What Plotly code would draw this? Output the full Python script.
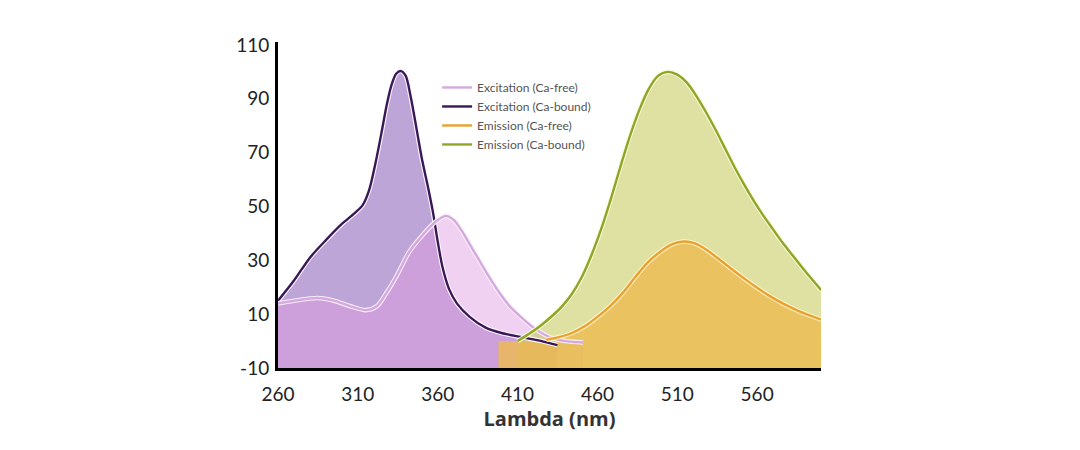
import plotly.graph_objects as go

# ---------------- data ----------------
exc_bound_x = [260, 270, 280, 290, 300, 308, 313, 317, 321, 325, 328, 331, 334, 337, 340, 343, 347, 350, 354, 357, 360, 363, 367, 372, 380, 390, 400, 412, 425, 435]
exc_bound_y = [15, 22.5, 31, 37.5, 43.5, 47.5, 50.5, 56, 66, 78, 87.5, 95, 99.3, 100.3, 98.5, 91, 78, 68, 57, 48, 37, 27.5, 19.5, 14, 9, 5, 3, 1.5, 0, -1.5]

exc_free_x = [260, 270, 285, 295, 305, 315, 322, 328, 335, 342, 350, 358, 365, 370, 375, 380, 385, 392, 398, 405, 412, 420, 430, 440, 451]
exc_free_y = [14, 15, 16, 15, 13, 11.5, 13, 18, 25, 33, 39, 44, 46.5, 45, 41, 36, 31, 24, 18.5, 13, 9, 5, 1.5, 0, -0.5]

em_bound_x = [410, 418, 425, 432, 438, 444, 450, 456, 462, 468, 474, 480, 486, 492, 498, 504, 510, 516, 522, 528, 534, 540, 546, 552, 558, 564, 570, 576, 582, 590, 600]
em_bound_y = [0, 3, 6, 9.5, 13, 17.5, 23.5, 31.5, 41, 52, 64, 75.5, 85.5, 93.5, 98.5, 100, 99, 96, 91, 85, 78.5, 71.5, 64.5, 58, 52, 46.5, 41.5, 36.5, 32, 26, 19]

em_free_x = [398, 410, 420, 428, 436, 444, 452, 460, 468, 476, 484, 492, 500, 507, 514, 521, 528, 536, 544, 552, 560, 568, 576, 584, 592, 600]
em_free_y = [0, 0, 0, 0.5, 1.5, 3, 5.5, 9, 13, 18, 24, 29.5, 33.5, 36, 37, 36.3, 34, 30.5, 26.8, 23.2, 19.8, 16.7, 14, 11.7, 9.7, 8]

names = ["Excitation (Ca-free)", "Excitation (Ca-bound)", "Emission (Ca-free)", "Emission (Ca-bound)"]
x_ticks = [260, 310, 360, 410, 460, 510, 560]
y_ticks = [-10, 10, 30, 50, 70, 90, 110]
x_range = [260, 600]
y_range = [-10, 111.1]

# ---------------- figure ----------------
fig = go.Figure()
SM = 0.8


def add_fill(xs, ys, color):
    base = [y_range[0]] * len(xs)
    fig.add_trace(go.Scatter(x=xs, y=base, mode="lines", line=dict(width=0),
                             showlegend=False, hoverinfo="skip"))
    fig.add_trace(go.Scatter(x=xs, y=ys, mode="lines", fill="tonexty", fillcolor=color,
                             line=dict(width=0, shape="spline", smoothing=SM),
                             showlegend=False, hoverinfo="skip"))


add_fill(exc_bound_x, exc_bound_y, "rgb(190,165,215)")
add_fill(exc_free_x, exc_free_y, "rgba(223,154,225,0.45)")
add_fill(em_bound_x, em_bound_y, "rgba(195,200,85,0.55)")
add_fill(em_free_x, em_free_y, "rgba(238,186,80,0.8)")


def add_line(xs, ys, color, halo, name, width=2.4):
    fig.add_trace(go.Scatter(x=xs, y=ys, mode="lines",
                             line=dict(color=halo, width=width + 2.2, shape="spline", smoothing=SM),
                             showlegend=False, hoverinfo="skip"))
    fig.add_trace(go.Scatter(x=xs, y=ys, mode="lines", name=name,
                             line=dict(color=color, width=width, shape="spline", smoothing=SM)))


add_line(exc_bound_x, exc_bound_y, "#3a1858", "rgba(255,255,255,0.9)", names[1])
add_line(exc_free_x, exc_free_y, "#d4aadd", "rgba(250,240,252,0.95)", names[0])
add_line(em_free_x[3:], em_free_y[3:], "#e9a22e", "rgba(255,245,210,0.9)", names[2])
add_line(em_bound_x, em_bound_y, "#8fa52a", "rgba(250,250,215,0.9)", names[3])

# legend order
order = {names[0]: 1, names[1]: 2, names[2]: 3, names[3]: 4}
for tr in fig.data:
    if tr.name in order:
        tr.legendrank = order[tr.name]

fig.update_layout(
    width=1064, height=434,
    margin=dict(l=270, r=251, t=34, b=74),
    paper_bgcolor="white", plot_bgcolor="white",
    font=dict(family="Lato", color="#222"),
    showlegend=True,
    legend=dict(x=0.293, y=0.905, xanchor="left", yanchor="top", traceorder="normal",
                bgcolor="rgba(0,0,0,0)", font=dict(family="Lato", size=12, color="#555"),
                itemwidth=30, tracegroupgap=0),
    xaxis=dict(range=x_range, tickvals=x_ticks, ticktext=[str(v) for v in x_ticks],
               showgrid=False, zeroline=False, showline=True, linecolor="black", linewidth=3,
               ticks="", ticklabelstandoff=7, tickfont=dict(family="Lato", size=19, color="#222"),
               title=dict(text="<b>Lambda (nm)</b>", font=dict(family="Open Sans", size=20, color="#333"),
                          standoff=0)),
    yaxis=dict(range=y_range, tickvals=y_ticks, ticktext=[str(v) for v in y_ticks],
               showgrid=False, zeroline=False, showline=True, linecolor="black", linewidth=3,
               ticks="", ticklabelstandoff=2, tickfont=dict(family="Lato", size=19, color="#222")),
)

fig.write_html("out.html")
